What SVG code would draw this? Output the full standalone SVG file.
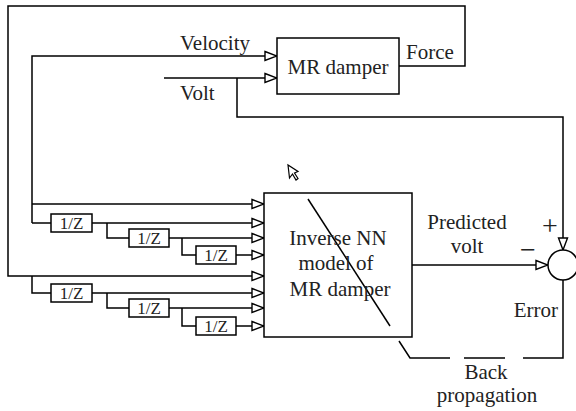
<svg xmlns="http://www.w3.org/2000/svg" width="576" height="411" viewBox="0 0 576 411" font-family="'Liberation Serif', 'Times New Roman', serif">
<style>
.ln{fill:none;stroke:#000;stroke-width:1.5}
.bx{fill:#fff;stroke:#000;stroke-width:1.5}
text{font-family:'Liberation Serif','Times New Roman',serif}
.t{font-size:21px;fill:#222}
.s{font-size:17px;fill:#222;text-anchor:middle}
.m{text-anchor:middle}
.pm{font-size:28px;fill:#222;text-anchor:middle}
</style>
<defs>
<marker id="ar" markerUnits="userSpaceOnUse" markerWidth="14" markerHeight="12" refX="13" refY="6" orient="auto" viewBox="0 0 14 12">
<path d="M1,1.5 L13,6 L1,10.5 Z" fill="#fff" stroke="#000" stroke-width="1.4"/>
</marker>
</defs>
<rect width="576" height="411" fill="#fff"/>
<g id="connectors">
<path class="ln" d="M399,66 L465,66 L465,6 L8,6 L8,276 L264,276" marker-end="url(#ar)"/>
<path class="ln" d="M32,223 L32,56 L277,56" marker-end="url(#ar)"/>
<path class="ln" d="M164,78 L277,78" marker-end="url(#ar)"/>
<path class="ln" d="M237,78 L237,117 L563,117 L563,250" marker-end="url(#ar)"/>
<path class="ln" d="M32,204 L264,204" marker-end="url(#ar)"/>
<path class="ln" d="M32,223 L51,223"/>
<path class="ln" d="M92,223 L264,223" marker-end="url(#ar)"/>
<path class="ln" d="M107,223 L107,238 L129,238"/>
<path class="ln" d="M169,238 L264,238" marker-end="url(#ar)"/>
<path class="ln" d="M182,238 L182,255 L196,255"/>
<path class="ln" d="M236,255 L264,255" marker-end="url(#ar)"/>
<path class="ln" d="M32,276 L32,293 L51,293"/>
<path class="ln" d="M92,293 L264,293" marker-end="url(#ar)"/>
<path class="ln" d="M107,293 L107,308 L129,308"/>
<path class="ln" d="M169,308 L264,308" marker-end="url(#ar)"/>
<path class="ln" d="M182,308 L182,326 L196,326"/>
<path class="ln" d="M236,326 L264,326" marker-end="url(#ar)"/>
<path class="ln" d="M412,265 L548,265" marker-end="url(#ar)"/>
<path class="ln" d="M563,280 L563,358 L523,358 M505,358 L464,358 M450,358 L410,358 L399,341"/>
</g>
<g id="mr-damper">
<rect class="bx" x="277" y="38" width="122" height="56"/>
<text class="t m" x="338" y="74">MR damper</text>
</g>
<text class="t" x="180" y="50">Velocity</text>
<text class="t" x="180" y="100">Volt</text>
<text class="t" x="406" y="59">Force</text>
<g id="inverse-nn">
<rect class="bx" x="264" y="193" width="148" height="144"/>
<line class="ln" x1="308" y1="199" x2="390" y2="326"/>
<path d="M288,165 L289.5,178 L292.5,174 L296,180 L298,178.5 L294.5,173 L298,171.5 Z" fill="#fff" stroke="#000" stroke-width="1.2"/>
<text class="t m" x="338" y="245">Inverse NN</text>
<text class="t m" x="336" y="270">model of</text>
<text class="t m" x="340" y="296">MR damper</text>
</g>
<g id="delay-1"><rect class="bx" x="51" y="214" width="41" height="18"/><text class="s" x="71.5" y="229">1/Z</text></g>
<g id="delay-2"><rect class="bx" x="129" y="229" width="40" height="18"/><text class="s" x="149" y="244">1/Z</text></g>
<g id="delay-3"><rect class="bx" x="196" y="246" width="40" height="18"/><text class="s" x="216" y="261">1/Z</text></g>
<g id="delay-4"><rect class="bx" x="51" y="284" width="41" height="18"/><text class="s" x="71.5" y="299">1/Z</text></g>
<g id="delay-5"><rect class="bx" x="129" y="299" width="40" height="18"/><text class="s" x="149" y="314">1/Z</text></g>
<g id="delay-6"><rect class="bx" x="196" y="317" width="40" height="18"/><text class="s" x="216" y="332">1/Z</text></g>
<g id="sum">
<circle class="bx" cx="563" cy="265" r="15"/>
<text class="pm" x="550" y="235">+</text>
<text class="pm" x="528" y="259">−</text>
</g>
<text class="t m" x="467" y="229">Predicted</text>
<text class="t m" x="467" y="253">volt</text>
<text class="t" x="558" y="317" text-anchor="end">Error</text>
<text class="t m" x="486" y="379">Back</text>
<text class="t m" x="487" y="402">propagation</text>
</svg>
